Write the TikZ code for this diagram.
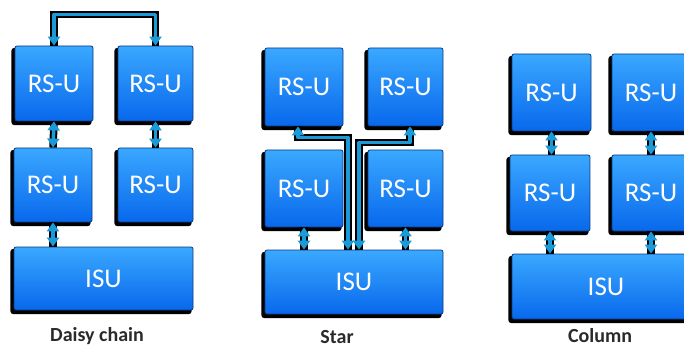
\documentclass[tikz,border=0pt]{standalone}
\usepackage{fontspec}
\setmainfont{Carlito}
\usetikzlibrary{arrows.meta,calc}
\definecolor{btop}{HTML}{3AA8FF}
\definecolor{bbot}{HTML}{0868EC}
\definecolor{bedge}{HTML}{0A3A80}
\definecolor{cblue}{HTML}{1A9AD8}
\definecolor{lblgray}{HTML}{2A2A2A}
\tikzset{
  box/.style={draw=bedge, line width=0.8pt, rounded corners=2pt,
    top color=btop, bottom color=bbot,
    preaction={draw=black, fill=black, line width=2.2pt,
      transform canvas={shift={(-2.5pt,-3pt)}}},
    text=white, font=\fontsize{27}{27}\selectfont, inner sep=0pt},
  outl/.style={draw=black, line width=7.5pt},
  conn/.style={draw=cblue, line width=3.5pt, line join=round,
    {Triangle[width=12pt,length=9pt,fill=cblue]}-{Triangle[width=12pt,length=9pt,fill=cblue]}},
  lbl/.style={text=lblgray, font=\bfseries\fontsize{20}{20}\selectfont, inner sep=0pt}
}
\begin{document}
\begin{tikzpicture}[x=1pt,y=-1pt]
\useasboundingbox (0,0) rectangle (684,347);
\clip (0,0) rectangle (684,347);
% Daisy chain
\node[box, minimum width=78, minimum height=75] (d1) at (54,83.5) {RS-U};
\node[box, minimum width=75, minimum height=75] (d2) at (155.5,83.5) {RS-U};
\node[box, minimum width=78, minimum height=74] (d3) at (53,185) {RS-U};
\node[box, minimum width=75, minimum height=74] (d4) at (155.5,185) {RS-U};
\node[box, minimum width=179, minimum height=63] (dI) at (103.5,278.5) {ISU};
\node[lbl] (dl) at (97,336) {Daisy chain};
\foreach \o in {outl,conn}{
  \draw[\o] (d1.north) -- ++(0,-31) -| (d2.north);
  \draw[\o] (d1.south) -- (d3.north);
  \draw[\o] (d2.south) -- (d4.north);
  \draw[\o] (d3.south) -- (d3.south |- dI.north);
}
% Star
\node[box, minimum width=78, minimum height=78] (s1) at (304,87) {RS-U};
\node[box, minimum width=75, minimum height=78] (s2) at (405.5,87) {RS-U};
\node[box, minimum width=78, minimum height=77] (s3) at (304,188.5) {RS-U};
\node[box, minimum width=75, minimum height=77] (s4) at (405.5,188.5) {RS-U};
\node[box, minimum width=178, minimum height=64] (sI) at (354,282) {ISU};
\node[lbl] (sl) at (337,337) {Star};
\foreach \o in {outl,conn}{
  \draw[\o] ([xshift=-6pt]s1.south) -- ++(0,11) -| ([xshift=-6pt]sI.north);
  \draw[\o] ([xshift=4.5pt]s2.south) -- ++(0,16) -| ([xshift=5pt]sI.north);
  \draw[\o] (s3.south) -- (s3.south |- sI.north);
  \draw[\o] (s4.south) -- (s4.south |- sI.north);
}
% Column
\node[box, minimum width=79, minimum height=77] (c1) at (551.5,92.5) {RS-U};
\node[box, minimum width=78, minimum height=77] (c2) at (651,92.5) {RS-U};
\node[box, minimum width=80, minimum height=76] (c3) at (550,193) {RS-U};
\node[box, minimum width=78, minimum height=76] (c4) at (651,193) {RS-U};
\node[box, minimum width=188, minimum height=65] (cI) at (606,286.5) {ISU};
\node[lbl] (cl) at (600,336) {Column};
\foreach \o in {outl,conn}{
  \draw[\o] (c1.south) -- (c1.south |- c3.north);
  \draw[\o] (c2.south) -- (c4.north);
  \draw[\o] (c3.south) -- (c3.south |- cI.north);
  \draw[\o] (c4.south) -- (c4.south |- cI.north);
}
\end{tikzpicture}
\end{document}
